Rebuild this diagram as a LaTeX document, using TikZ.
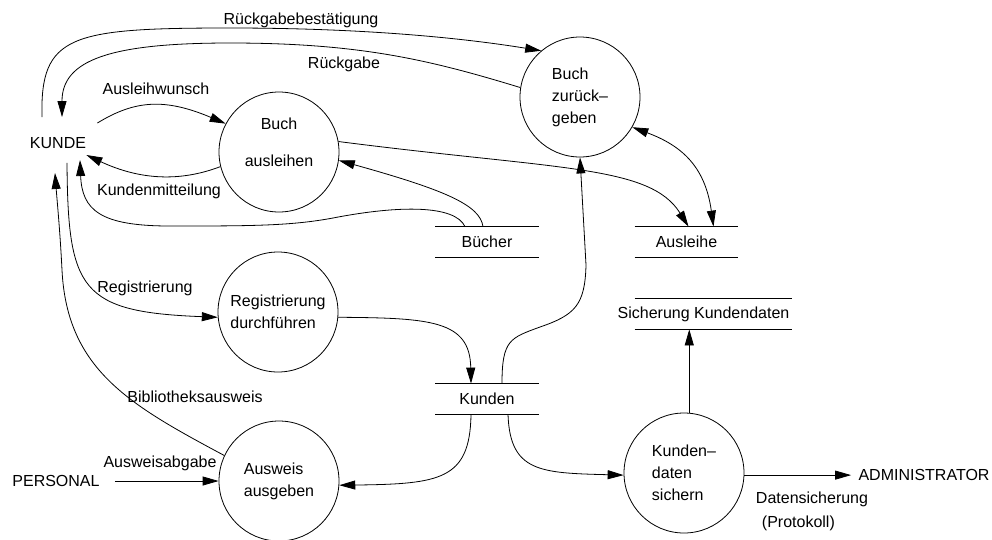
\documentclass[tikz,border=0pt]{standalone}
\usepackage{fontspec}
\setmainfont{Liberation Sans}
\usetikzlibrary{arrows.meta}
\begin{document}
\begin{tikzpicture}[x=1pt,y=-1pt,line width=0.8pt,
  font=\fontsize{16}{22}\selectfont,
  >={Triangle[length=16pt,width=9pt]},
  proc/.style={circle,draw,minimum size=120pt,inner sep=0pt,align=left},
  store/.style={minimum width=103pt,minimum height=30pt,inner sep=0pt,
    append after command={(\tikzlastnode.north west) edge (\tikzlastnode.north east)
      (\tikzlastnode.south west) edge (\tikzlastnode.south east)}},
  ext/.style={inner sep=0pt}]
  \useasboundingbox (0,0) rectangle (992,539);

  \node[proc,align=center] (ausl) at (279,152) {Buch\\[15pt]ausleihen\\[-2pt]\mbox{}};
  \node[proc] (zur) at (580,97) {Buch\\zurück–\\geben};
  \node[proc] (reg) at (278,312) {Registrierung\\durchführen};
  \node[proc] (ausw) at (279,481) {Ausweis\\ausgeben};
  \node[proc] (sich) at (684,473) {Kunden–\\daten\\sichern};

  \node[store] (buecher) at (487,242) {Bücher};
  \node[store] (ausleihe) at (686.5,242) {Ausleihe};
  \node[store] (kunden) at (487,399) {Kunden};
  \node[store,minimum width=157pt] (sicher) at (713.5,314) {\hspace*{-20pt}Sicherung Kundendaten};

  \node[ext] (kunde) at (58,143) {KUNDE};
  \node[ext] (personal) at (56,481) {PERSONAL};
  \node[ext] (admin) at (924,475) {ADMINISTRATOR};

  \node (lrueckbest) at (301,20) {Rückgabebestätigung};
  \node (lrueck) at (344,64) {Rückgabe};
  \node (lwunsch) at (156,89) {Ausleihwunsch};
  \node (lmitt) at (159,191) {Kundenmitteilung};
  \node (lreg) at (145,288) {Registrierung};
  \node (lausweis) at (195,397) {Bibliotheksausweis};
  \node (labgabe) at (160,463) {Ausweisabgabe};
  \node[align=left] (lsicherung) at (812,511) {Datensicherung\\[2pt]\hspace*{6pt}(Protokoll)};

  \draw[->] ([xshift=-16pt,yshift=20pt]kunde.north) .. controls (40,35) and (70,28) .. (230,28)
    .. controls (350,28) and (450,36) .. (zur.130);
  \draw[->] (zur.171) .. controls (430,60) and (360,43) .. (230,43)
    .. controls (110,43) and (62,60) .. ([xshift=4pt,yshift=20pt]kunde.north);
  \draw[->] ([xshift=11pt,yshift=20pt]kunde.east) .. controls (135,100) and (165,98) .. (ausl.152);
  \draw[->] (ausl.194) .. controls (180,182) and (140,180) .. ([yshift=-12pt]kunde.east);
  \draw[->] ([xshift=-4pt]buecher.north) .. controls (480,205) and (445,190) .. (ausl.-8);
  \draw[->] ([xshift=-22pt]buecher.north) .. controls (455,205) and (400,205) .. (333,218)
    .. controls (290,226) and (250,226) .. (170,226)
    .. controls (100,226) and (82,210) .. ([xshift=22pt,yshift=-11pt]kunde.south);
  \draw[->] (ausl.10) .. controls (560,170) and (650,165) .. ([xshift=2pt]ausleihe.north);
  \draw[<->] (zur.-30) .. controls (680,145) and (705,165) .. ([xshift=27pt]ausleihe.north);
  \draw[->] ([xshift=15pt]kunden.north) .. controls (502,340) and (510,338) .. (540,327)
    .. controls (575,315) and (585,305) .. (586,265) -- (zur.south);
  \draw[->] (reg.-5) .. controls (430,318) and (470,320) .. ([xshift=-16pt]kunden.north);
  \draw[->] ([xshift=9pt,yshift=-14pt]kunde.south) .. controls (68,290) and (80,312) .. (reg.185);
  \draw[->] (ausw.155) .. controls (130,405) and (67,370) .. (62,270)
    .. controls (60,230) and (57,200) .. ([xshift=-3pt,yshift=-24pt]kunde.south);
  \draw[->] ([xshift=15pt]personal.east) -- (ausw.west);
  \draw[->] ([xshift=-16pt]kunden.south) .. controls (470,480) and (440,484) .. (ausw.-4);
  \draw[->] ([xshift=21pt]kunden.south) .. controls (510,472) and (540,473) .. (sich.182);
  \draw[->] (sich.85) -- (sich.85 |- sicher.south);
  \draw[->] (sich.-2) -- ([xshift=-7pt]sich.-2 -| admin.west);
\end{tikzpicture}
\end{document}
